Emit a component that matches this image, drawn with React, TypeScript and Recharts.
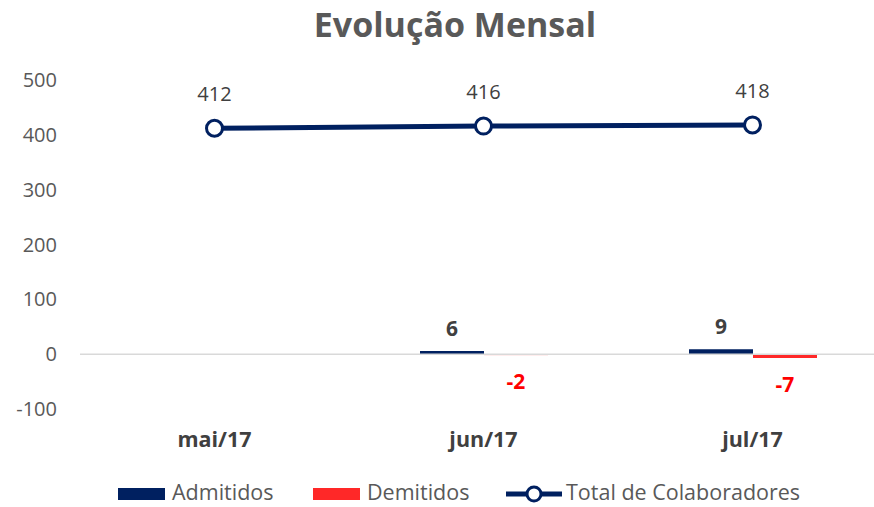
import { Bar, Cell, ComposedChart, LabelList, Legend, Line, ReferenceLine, XAxis, YAxis } from "recharts";

const categories = ["mai/17", "jun/17", "jul/17"];
const admitidos = [null, 6, 9];
const demitidos = [null, -2, -7];
const totalColaboradores = [412, 416, 418];
const yTicks = [-100, 0, 100, 200, 300, 400, 500];

const NAVY = "#002060";
const RED = "#FF2828";
const RED_LIGHT = "#FFB8B8";
const FONT = "'Open Sans', 'Noto Sans', sans-serif";

const data = categories.map((c, i) => ({
  month: c,
  admitidos: admitidos[i],
  demitidos: demitidos[i],
  total: totalColaboradores[i],
}));

function BarValueLabel(props: any) {
  const { x, y, width, height, value, color } = props;
  if (value === null || value === undefined) return null;
  const top = Math.min(y, y + height);
  const bottom = Math.max(y, y + height);
  const cx = x + width / 2;
  const ty = value >= 0 ? top - 15 : bottom + 34;
  return (
    <text x={cx} y={ty} textAnchor="middle" fill={color} fontSize={21} fontWeight={700} fontFamily={FONT}>
      {value}
    </text>
  );
}

function LegendContent() {
  const text = { fontSize: 21.5, color: "#595959", fontFamily: FONT, lineHeight: "22px", whiteSpace: "nowrap" as const };
  const item = { display: "flex", alignItems: "center", flex: "none" as const, height: 22 };
  return (
    <div style={{ display: "flex", alignItems: "center", height: 22, paddingLeft: 118 }}>
      <div style={{ ...item, width: 195 }}>
        <span style={{ width: 47, height: 12, marginTop: 3, background: NAVY, marginRight: 7 }} />
        <span style={text}>Admitidos</span>
      </div>
      <div style={{ ...item, width: 192 }}>
        <span style={{ width: 47, height: 12, marginTop: 3, background: RED, marginRight: 7 }} />
        <span style={text}>Demitidos</span>
      </div>
      <div style={{ ...item, width: 320 }}>
        <svg width={58} height={20} style={{ marginRight: 3, marginTop: 3 }}>
          <line x1={1} y1={10} x2={57} y2={10} stroke={NAVY} strokeWidth={5} />
          <circle cx={29} cy={10} r={7} fill="#fff" stroke={NAVY} strokeWidth={3} />
        </svg>
        <span style={text}>Total de Colaboradores</span>
      </div>
    </div>
  );
}

export default function App() {
  return (
    <div style={{ position: "fixed", left: 0, top: 0, width: 874, height: 507, overflow: "hidden", background: "#fff" }}>
      <div
        style={{
          position: "absolute",
          left: 0,
          top: 1,
          width: 910,
          textAlign: "center",
          fontFamily: FONT,
          fontWeight: 700,
          fontSize: 34,
          color: "#595959",
        }}
      >
        Evolução Mensal
      </div>
      <ComposedChart
        width={890}
        height={507}
        data={data}
        margin={{ top: 80, right: 3, bottom: 26, left: 0 }}
        barGap={0}
        barCategoryGap="26%"
      >
        <XAxis
          dataKey="month"
          axisLine={false}
          tickLine={false}
          tickMargin={17}
          height={50}
          tick={{ fontSize: 21.5, fontWeight: 700, fill: "#404040", fontFamily: FONT }}
        />
        <YAxis
          domain={[-100, 500]}
          ticks={yTicks}
          width={80}
          axisLine={false}
          tickLine={false}
          tickMargin={17}
          interval={0}
          tick={{ fontSize: 20, fill: "#595959", fontFamily: FONT }}
        />
        <ReferenceLine y={0} stroke="#D9D9D9" strokeWidth={1.5} />
        <Legend verticalAlign="bottom" align="left" wrapperStyle={{ left: 0, top: 481, width: 874 }} content={<LegendContent />} />
        <Bar dataKey="admitidos" fill={NAVY} barSize={64} isAnimationActive={false}>
          <LabelList dataKey="admitidos" content={<BarValueLabel color="#404040" />} />
        </Bar>
        <Bar dataKey="demitidos" fill={RED} barSize={64} isAnimationActive={false}>
          {data.map((d) => (
            <Cell key={d.month} fill={d.demitidos !== null && d.demitidos > -5 ? RED_LIGHT : RED} />
          ))}
          <LabelList dataKey="demitidos" content={<BarValueLabel color="#FF0000" />} />
        </Bar>
        <Line
          dataKey="total"
          stroke={NAVY}
          strokeWidth={5}
          dot={{ r: 8, fill: "#fff", stroke: NAVY, strokeWidth: 3 }}
          activeDot={false}
          isAnimationActive={false}
        >
          <LabelList dataKey="total" position="top" offset={27} fill="#404040" fontSize={20} fontFamily={FONT} />
        </Line>
      </ComposedChart>
    </div>
  );
}
